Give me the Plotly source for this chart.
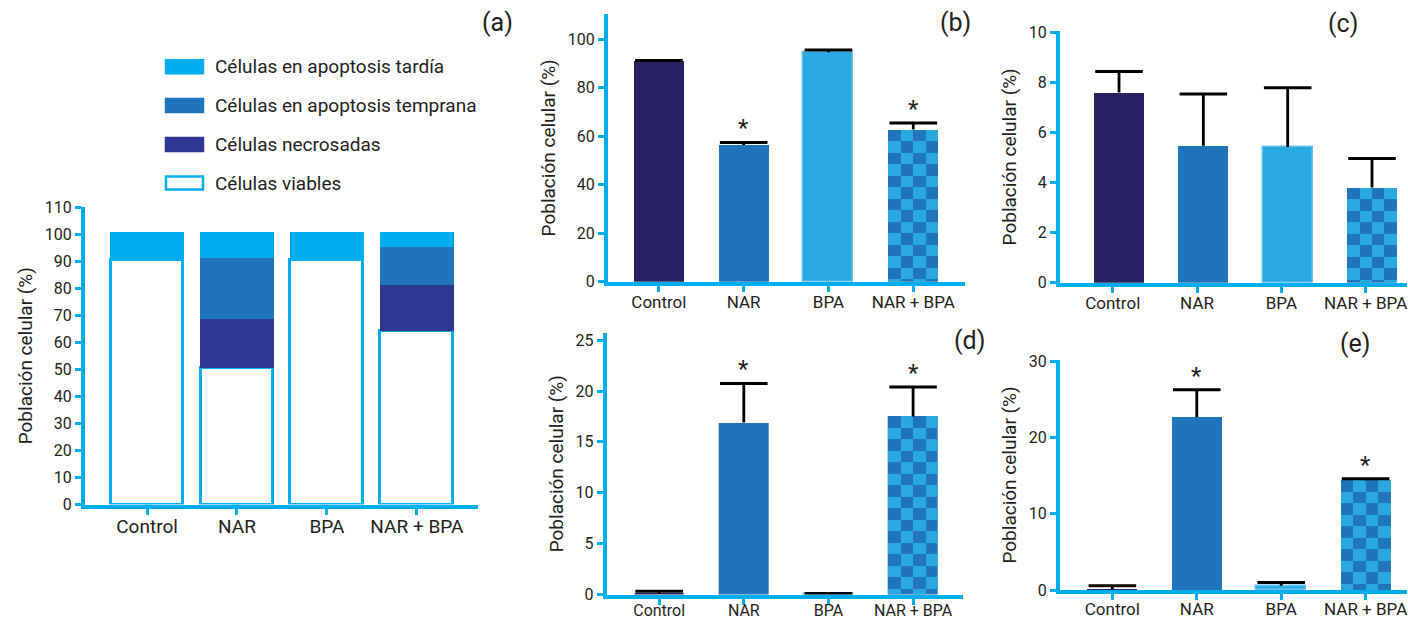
import numpy as np
import plotly.graph_objects as go

# ---------------- data ----------------
categorias = ["Control", "NAR", "BPA", "NAR + BPA"]

# panel (a): stacked composition (%)
viables_a = [90.3, 50.5, 90.3, 64.0]
necrosadas_a = [0.0, 18.0, 0.0, 17.3]
temprana_a = [0.0, 22.7, 0.0, 13.9]
tardia_a = [10.5, 9.6, 10.5, 5.6]

# panel (b)
valores_b = [91.0, 56.4, 94.7, 62.8]
errores_b = [0.3, 1.1, 0.9, 2.7]
signif_b = [False, True, False, True]

# panel (c)
valores_c = [7.59, 5.47, 5.42, 3.80]
errores_c = [0.84, 2.06, 2.36, 1.16]
signif_c = [False, False, False, False]

# panel (d)
valores_d = [0.05, 16.9, 0.05, 17.5]
errores_d = [0.28, 3.84, 0.05, 2.9]
signif_d = [False, True, False, True]

# panel (e)
valores_e = [0.1, 22.7, 0.57, 14.4]
errores_e = [0.47, 3.6, 0.43, 0.2]
signif_e = [False, True, False, True]

# ---------------- style ----------------
W, H = 1408, 620
AXIS = "#00AEEF"
TXT = "#231F20"
C_CONTROL = "#262262"
C_NAR = "#1F74BB"
C_BPA = "#29A9E0"
C_TARDIA = "#00AEEF"
C_TEMPRANA = "#1F74BB"
C_NECRO = "#2E3790"
FONT = "Roboto"
CELL_PX = 11.5

fig = go.Figure()


def px_x(p):
    return p / W


def px_y(p):
    return 1 - p / H


def axis_common():
    return dict(showline=True, linecolor=AXIS, linewidth=4, ticks="outside",
                ticklen=6, tickwidth=3, tickcolor=AXIS, showgrid=False,
                zeroline=False, automargin=False, fixedrange=True)


panels = {
    # name: (xdomain px, ydomain px (top,bottom), xrange, yrange, dtick, xfont, bar shift, label standoff)
    "a": ((85, 478), (207, 504.5), (-0.69, 3.68), (0, 110), 10, 19, 0.0, -4),
    "b": ((608, 965), (14, 281.7), (-0.60, 3.61), (0, 110.5), 20, 17, 0.0, -4),
    "c": ((1060, 1407), (31, 282.7), (-0.625, 3.49), (0, 10.05), 2, 17, 0.075, -4),
    "d": ((606.7, 963), (333, 594.5), (-0.62, 3.59), (0, 25.7), 5, 16, 0.0, -8),
    "e": ((1060, 1407), (360, 590), (-0.62, 3.49), (0, 30.2), 10, 17, 0.0, -5),
}
axid = {"a": "", "b": "2", "c": "3", "d": "4", "e": "5"}

layout_axes = {}
for name, (xd, yd, xr, yr, dt, xf, sh, so) in panels.items():
    n = axid[name]
    xa = axis_common()
    xa.update(domain=[px_x(xd[0]), px_x(xd[1])], range=list(xr), anchor="y" + n,
              tickmode="array", tickvals=[0, 1, 2, 3], ticktext=categorias,
              ticklabelstandoff=so, ticklabeloverflow="allow",
              tickfont=dict(family=FONT, size=xf, color=TXT))
    ya = axis_common()
    ya.update(domain=[px_y(yd[1]), px_y(yd[0])], range=list(yr), anchor="x" + n,
              tickmode="linear", tick0=0, dtick=dt,
              tickfont=dict(family=FONT, size=16, color=TXT),
              title=dict(text="Población celular (%)", standoff=8,
                         font=dict(family=FONT, size=19, color=TXT)))
    layout_axes["xaxis" + n] = xa
    layout_axes["yaxis" + n] = ya

# ---------------- panel (a) ----------------
xs = [0, 1, 2, 3]
v = np.array(viables_a)
nc = np.array(necrosadas_a)
tp = np.array(temprana_a)
td = np.array(tardia_a)
wa = 0.83
fig.add_bar(x=xs, y=v, base=0, width=wa - 0.02, marker=dict(color="white", line=dict(width=3, color=AXIS)),
            xaxis="x", yaxis="y", showlegend=False)
fig.add_bar(x=xs, y=nc, base=v, width=wa, marker=dict(color=C_NECRO, line=dict(width=0)),
            xaxis="x", yaxis="y", showlegend=False)
fig.add_bar(x=xs, y=tp, base=v + nc, width=wa, marker=dict(color=C_TEMPRANA, line=dict(width=0)),
            xaxis="x", yaxis="y", showlegend=False)
fig.add_bar(x=xs, y=td, base=v + nc + tp, width=wa, marker=dict(color=C_TARDIA, line=dict(width=0)),
            xaxis="x", yaxis="y", showlegend=False)

# ---------------- panels (b)-(e) ----------------
annotations = []
wb = 0.59
for name, vals, errs, sig in [("b", valores_b, errores_b, signif_b),
                              ("c", valores_c, errores_c, signif_c),
                              ("d", valores_d, errores_d, signif_d),
                              ("e", valores_e, errores_e, signif_e)]:
    n = axid[name]
    xd, yd, xr, yr, dt, xf, sh, so = panels[name]
    bx = [i + sh for i in xs]
    fig.add_bar(x=bx, y=vals, width=wb,
                marker=dict(color=[C_CONTROL, C_NAR, C_BPA, C_NAR],
                            line=dict(width=[0, 0, 1.5, 0],
                                      color=["rgba(0,0,0,0)", "rgba(0,0,0,0)", "#66C4EC", "rgba(0,0,0,0)"])),
                xaxis="x" + n, yaxis="y" + n, showlegend=False)
    # checkerboard overlay on the combined-treatment bar
    px_per_unit = (yd[1] - yd[0]) / (yr[1] - yr[0])
    ch = CELL_PX / px_per_unit
    k = 3
    top = vals[k]
    ncols = 4
    cw = wb / ncols
    cx, cy, cb = [], [], []
    i = 0
    while top - i * ch > 0:
        seg_top = top - i * ch
        seg_bot = max(0.0, top - (i + 1) * ch)
        for j in range(ncols):
            if (i + j) % 2 == 1:
                cx.append(bx[k] - wb / 2 + (j + 0.5) * cw)
                cy.append(seg_top - seg_bot)
                cb.append(seg_bot)
        i += 1
    fig.add_bar(x=cx, y=cy, base=cb, width=cw, marker=dict(color=C_BPA, line=dict(width=0)),
                xaxis="x" + n, yaxis="y" + n, showlegend=False)
    # error bars: upward stem + single cap
    tops = [a + b for a, b in zip(vals, errs)]
    fig.add_scatter(x=bx, y=tops, mode="markers",
                    marker=dict(symbol="line-ew", size=34, color="black",
                                line=dict(width=3, color="black")),
                    error_y=dict(type="data", symmetric=False, array=[0, 0, 0, 0], arrayminus=errs,
                                 color="black", thickness=2.8, width=0),
                    xaxis="x" + n, yaxis="y" + n, showlegend=False, hoverinfo="skip")
    for idx, s in enumerate(sig):
        if s:
            annotations.append(dict(x=bx[idx], y=tops[idx], xref="x" + n, yref="y" + n,
                                    text="*", showarrow=False, yanchor="bottom", yshift=-2,
                                    font=dict(family=FONT, size=24, color=TXT)))

# ---------------- legend (manual) ----------------
shapes = []
legend_items = [("Células en apoptosis tardía", C_TARDIA, C_TARDIA),
                ("Células en apoptosis temprana", C_TEMPRANA, C_TEMPRANA),
                ("Células necrosadas", C_NECRO, C_NECRO),
                ("Células viables", "white", AXIS)]
rows_y = [66.7, 105.5, 144.5, 183]
for (label, fill, line), ry in zip(legend_items, rows_y):
    shapes.append(dict(type="rect", xref="paper", yref="paper",
                       x0=px_x(166), x1=px_x(203), y0=px_y(ry + 6.5), y1=px_y(ry - 6.5),
                       fillcolor=fill, line=dict(color=line, width=2.5)))
    annotations.append(dict(x=px_x(213), y=px_y(ry), xref="paper", yref="paper", text=label,
                            showarrow=False, xanchor="left", yanchor="middle",
                            font=dict(family=FONT, size=19, color=TXT)))

# panel labels
for lab, lx, ly in [("(a)", 497, 22), ("(b)", 955, 22), ("(c)", 1343, 24), ("(d)", 969, 340), ("(e)", 1355, 343)]:
    annotations.append(dict(x=px_x(lx), y=px_y(ly), xref="paper", yref="paper", text=lab,
                            showarrow=False, xanchor="center", yanchor="middle",
                            font=dict(family=FONT, size=25, color=TXT)))

fig.update_layout(width=W, height=H, margin=dict(l=0, r=0, t=0, b=0, autoexpand=False),
                  paper_bgcolor="white", plot_bgcolor="white", barmode="overlay",
                  bargap=0, annotations=annotations, shapes=shapes, showlegend=False,
                  **layout_axes)

fig.write_html("out.html", config={"displayModeBar": False},
               post_script="document.body.style.margin='0';document.body.style.padding='0';"
                           "document.documentElement.style.overflow='hidden';")
